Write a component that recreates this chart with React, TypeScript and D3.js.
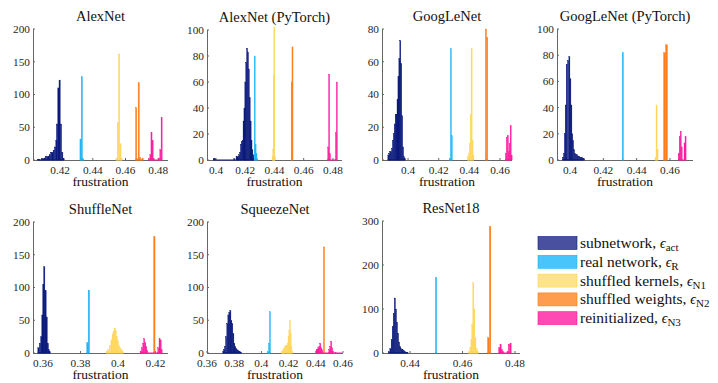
import React from "react"
import { scaleLinear } from "d3"

// histogram bins: [frustration, count]
const alexAct = [[0.4065,1],[0.4073,1],[0.4089,2],[0.4097,2],[0.4105,3],[0.4113,6],[0.4121,5],[0.4129,6],[0.4137,8],[0.4145,12],[0.4153,12],[0.4161,15],[0.4169,20],[0.4177,30],[0.4181,55],[0.4189,110],[0.4197,122],[0.4205,55],[0.4213,12],[0.4221,2]]
const alexR = [[0.4325,32],[0.4333,127],[0.4341,2]]
const alexN1 = [[0.4545,3],[0.4553,57],[0.4561,162],[0.4569,25],[0.4577,3]]
const alexN2 = [[0.4665,80],[0.4673,2],[0.4681,118],[0.4689,4],[0.4697,1],[0.4705,3]]
const alexN3 = [[0.4745,2],[0.4752,8],[0.4759,42],[0.4766,30],[0.4773,2],[0.4805,3],[0.4813,16],[0.4821,65]]

const alexPtAct = [[0.3985,1],[0.3993,1],[0.4125,1],[0.4140,3],[0.4146,2],[0.4152,3],[0.4158,4],[0.4164,6],[0.4170,12],[0.4176,14],[0.4182,15],[0.4188,30],[0.4194,40],[0.4200,60],[0.4206,75],[0.4212,86],[0.4218,83],[0.4224,70],[0.4230,48],[0.4236,30],[0.4242,15],[0.4248,8],[0.4254,4],[0.4260,1]]
const alexPtR = [[0.4264,80],[0.4270,12],[0.4276,5],[0.4282,1]]
const alexPtN1 = [[0.4386,3],[0.4390,8],[0.4394,65],[0.4398,102],[0.4402,2]]
const alexPtN2 = [[0.4517,60],[0.4522,87]]
const alexPtN3 = [[0.4767,10],[0.4773,66],[0.4779,5],[0.4820,21],[0.4826,60]]

const googAct = [[0.3871,3],[0.3877,4],[0.3883,5],[0.3889,5],[0.3895,7],[0.3901,12],[0.3907,16],[0.3913,22],[0.3919,28],[0.3925,28],[0.3931,37],[0.3937,51],[0.3943,62],[0.3949,73],[0.3955,59],[0.3961,27],[0.3967,8],[0.3973,2],[0.3979,1]]
const googR = [[0.4273,1],[0.4279,68],[0.4285,15]]
const googN1 = [[0.4390,2],[0.4396,4],[0.4402,10],[0.4408,28],[0.4414,68],[0.4420,12],[0.4426,3]]
const googN2 = [[0.4508,80],[0.4516,75]]
const googN3 = [[0.4638,4],[0.4644,14],[0.4651,15],[0.4657,5],[0.4663,10],[0.4669,21],[0.4675,3]]

const googPtAct = [[0.3958,2],[0.3964,5],[0.3969,20],[0.3974,42],[0.3980,73],[0.3988,76],[0.3996,79],[0.4002,62],[0.4008,42],[0.4013,20],[0.4018,15],[0.4024,8],[0.4030,5],[0.4036,4],[0.4042,4],[0.4048,3],[0.4054,3],[0.4060,2],[0.4066,2],[0.4072,2],[0.4078,1],[0.4084,1]]
const googPtR = [[0.4317,82]]
const googPtN1 = [[0.4513,2],[0.4519,42],[0.4525,8]]
const googPtN2 = [[0.4567,82],[0.4579,88]]
const googPtN3 = [[0.4652,5],[0.4658,18],[0.4664,22],[0.4670,10],[0.4676,0],[0.4687,13],[0.4693,18]]

const shuffAct = [[0.3576,8],[0.3584,15],[0.3591,25],[0.3597,58],[0.3602,105],[0.3607,132],[0.3614,95],[0.3620,55],[0.3626,15],[0.3631,5],[0.3636,2]]
const shuffR = [[0.3837,16],[0.3845,96]]
const shuffN1 = [[0.3940,2],[0.3948,5],[0.3957,12],[0.3966,20],[0.3972,28],[0.3977,33],[0.3983,38],[0.3988,34],[0.3993,25],[0.3999,20],[0.4005,12],[0.4012,8],[0.4019,5],[0.4026,2]]
const shuffN2 = [[0.4194,178]]
const shuffN3 = [[0.4121,3],[0.4128,8],[0.4135,15],[0.4140,22],[0.4146,16],[0.4151,10],[0.4156,4],[0.4215,8],[0.4222,22],[0.4228,20],[0.4233,5]]

const squeezeAct = [[0.3720,3],[0.3726,5],[0.3732,10],[0.3740,25],[0.3749,45],[0.3757,58],[0.3764,62],[0.3772,65],[0.3779,50],[0.3786,45],[0.3794,30],[0.3801,15],[0.3808,10],[0.3815,7],[0.3822,5],[0.3829,4],[0.3836,3],[0.3843,2],[0.3850,1]]
const squeezeR = [[0.4049,2],[0.4056,15],[0.4063,63]]
const squeezeN1 = [[0.4149,2],[0.4155,3],[0.4161,5],[0.4167,7],[0.4174,10],[0.4180,11],[0.4186,12],[0.4193,15],[0.4199,25],[0.4205,35],[0.4210,50],[0.4215,30],[0.4220,10],[0.4227,3]]
const squeezeN2 = [[0.4460,162]]
const squeezeN3 = [[0.4406,5],[0.4413,6],[0.4419,8],[0.4426,10],[0.4433,15],[0.4440,8],[0.4447,5],[0.4499,5],[0.4506,10],[0.4513,18],[0.4520,8],[0.4527,3],[0.4545,1],[0.4590,0]]

const resAct = [[0.4320,3],[0.4325,10],[0.4330,30],[0.4334,60],[0.4338,90],[0.4342,125],[0.4346,100],[0.4350,70],[0.4354,45],[0.4358,25],[0.4362,15],[0.4366,10],[0.4371,8],[0.4376,5],[0.4381,3],[0.4386,2],[0.4390,1]]
const resR = [[0.4499,172]]
const resN1 = [[0.4625,3],[0.4630,12],[0.4634,30],[0.4637,65],[0.4641,160],[0.4645,100],[0.4649,35],[0.4654,10],[0.4659,3]]
const resN2 = [[0.4698,35],[0.4705,288]]
const resN3 = [[0.4740,12],[0.4745,20],[0.4750,8],[0.4755,3],[0.4772,3],[0.4777,20],[0.4783,22]]

const yTicks200 = [0, 50, 100, 150, 200]
const yTicks100 = [0, 20, 40, 60, 80, 100]
const yTicks80 = [0, 20, 40, 60, 80]
const yTicks300 = [0, 100, 200, 300]

const colors = ["#0d1b7c", "#1fb6f6", "#ffd75e", "#ff7d1c", "#ff1c9e"]
const legendColors = ["#4a50a0", "#48c5fa", "#fee388", "#fe9d4d", "#ff49b3"]
const legendLabels = ["subnetwork, ", "real network, ", "shuffled kernels, ", "shuffled weights, ", "reinitialized, "]
const legendSubs = ["act", "R", "N1", "N2", "N3"]

const panels = [
  { title: "AlexNet", x0: 33, x1: 168, yTop: 29, yBot: 160, xDomain: [0.4034, 0.486], yTicks: yTicks200,
    xTicks: [0.42, 0.44, 0.46, 0.48], series: [alexAct, alexR, alexN1, alexN2, alexN3], bw: [0.0008, 0.0008, 0.0008, 0.0008, 0.0007] },
  { title: "AlexNet (PyTorch)", x0: 207, x1: 342, yTop: 30, yBot: 160, xDomain: [0.39385, 0.4862], yTicks: yTicks100,
    xTicks: [0.4, 0.42, 0.44, 0.46, 0.48], series: [alexPtAct, alexPtR, alexPtN1, alexPtN2, alexPtN3], bw: [0.0006, 0.0006, 0.0005, 0.0005, 0.0006] },
  { title: "GoogLeNet", x0: 382, x1: 512, yTop: 29, yBot: 160, xDomain: [0.383, 0.4678], yTicks: yTicks80,
    xTicks: [0.4, 0.42, 0.44, 0.46], series: [googAct, googR, googN1, googN2, googN3], bw: [0.00065, 0.0006, 0.0006, 0.0008, 0.00065] },
  { title: "GoogLeNet (PyTorch)", x0: 557, x1: 693, yTop: 29, yBot: 160, xDomain: [0.3922, 0.4738], yTicks: yTicks100,
    xTicks: [0.4, 0.42, 0.44, 0.46], series: [googPtAct, googPtR, googPtN1, googPtN2, googPtN3], bw: [0.0006, 0.0008, 0.0006, 0.0012, 0.0006] },
  { title: "ShuffleNet", x0: 33, x1: 168, yTop: 222, yBot: 353, xDomain: [0.3547, 0.4267], yTicks: yTicks200,
    xTicks: [0.36, 0.38, 0.4, 0.42], series: [shuffAct, shuffR, shuffN1, shuffN2, shuffN3], bw: [0.0007, 0.0008, 0.0007, 0.0008, 0.0006] },
  { title: "SqueezeNet", x0: 207, x1: 343, yTop: 222, yBot: 353, xDomain: [0.36, 0.46], yTicks: yTicks200,
    xTicks: [0.36, 0.38, 0.4, 0.42, 0.44, 0.46], series: [squeezeAct, squeezeR, squeezeN1, squeezeN2, squeezeN3], bw: [0.0008, 0.0008, 0.0007, 0.0009, 0.0008] },
  { title: "ResNet18", x0: 382, x1: 520, yTop: 221, yBot: 353, xDomain: [0.4293, 0.4819], yTicks: yTicks300,
    xTicks: [0.44, 0.46, 0.48], series: [resAct, resR, resN1, resN2, resN3], bw: [0.00045, 0.0005, 0.00045, 0.0006, 0.0005] },
]

const serif = '"Liberation Serif"'

const Panel = ({ p }) => {
  const xs = scaleLinear().domain(p.xDomain).range([p.x0, p.x1])
  const yMax = p.yTicks[p.yTicks.length - 1]
  const ys = scaleLinear().domain([0, yMax]).range([p.yBot, p.yTop])
  const cx = (p.x0 + p.x1) / 2
  return (
    <g>
      <text x={cx} y={p.yTop - 8} textAnchor="middle" fontSize={14.5} fill="#111" style={{ fontFamily: serif }}>{p.title}</text>
      <line x1={p.x0 + 0.5} x2={p.x0 + 0.5} y1={p.yTop} y2={p.yBot} stroke="#666" />
      <line x1={p.x0} x2={p.x1} y1={p.yBot + 0.5} y2={p.yBot + 0.5} stroke="#666" />
      {p.yTicks.map((t) => (
        <g key={"y" + t}>
          <line x1={p.x0} x2={p.x0 + 2} y1={ys(t)} y2={ys(t)} stroke="#666" />
          <text x={p.x0 - 3} y={ys(t)} dy="0.35em" textAnchor="end" fontSize={11.3} fill="#262626" style={{ fontFamily: serif }}>{t}</text>
        </g>
      ))}
      {p.xTicks.map((t) => (
        <g key={"x" + t}>
          <line x1={xs(t)} x2={xs(t)} y1={p.yBot} y2={p.yBot - 2} stroke="#666" />
          <text x={xs(t)} y={p.yBot + 13.5} textAnchor="middle" fontSize={11.3} fill="#262626" style={{ fontFamily: serif }}>{String(t)}</text>
        </g>
      ))}
      {p.series.map((bins, si) => {
        const bw = p.bw[si]
        const first = bins[0][0] - bw / 2
        const last = bins[bins.length - 1][0] + bw / 2
        return (
          <g key={si}>
            <line x1={xs(first)} x2={xs(last)} y1={p.yBot} y2={p.yBot} stroke={colors[si]} strokeWidth={1} />
            {bins.map(([v, c], i) => {
              const l = xs(v - bw / 2)
              const w = Math.max(xs(v + bw / 2) - l, 1.1)
              return (
                <rect key={i} x={l} width={w} y={ys(c)} height={p.yBot - ys(c)}
                  fill={colors[si]} stroke={colors[si]} strokeWidth={0.3} />
              )
            })}
          </g>
        )
      })}
      <text x={cx} y={p.yBot + 26} textAnchor="middle" fontSize={13.5} fill="#111" style={{ fontFamily: serif }}>frustration</text>
    </g>
  )
}

const App = () => {
  return (
    <svg width={718} height={383} style={{ position: "absolute", left: 0, top: 0, background: "#fff" }}>
      {panels.map((p) => <Panel key={p.title} p={p} />)}
      {legendLabels.map((label, i) => {
        const cy = 243 + i * 18.8
        return (
          <g key={label}>
            <rect x={538} y={cy - 6.5} width={39} height={13} fill={legendColors[i]} stroke={colors[i]} strokeWidth={0.6} />
            <text x={580} y={cy + 5} fontSize={15.5} fill="#111" style={{ fontFamily: serif }}>
              {label}
              <tspan fontStyle="italic" fontSize={14}>ϵ</tspan>
              <tspan fontSize={11} dy={3}>{legendSubs[i]}</tspan>
            </text>
          </g>
        )
      })}
    </svg>
  )
}

export default App
